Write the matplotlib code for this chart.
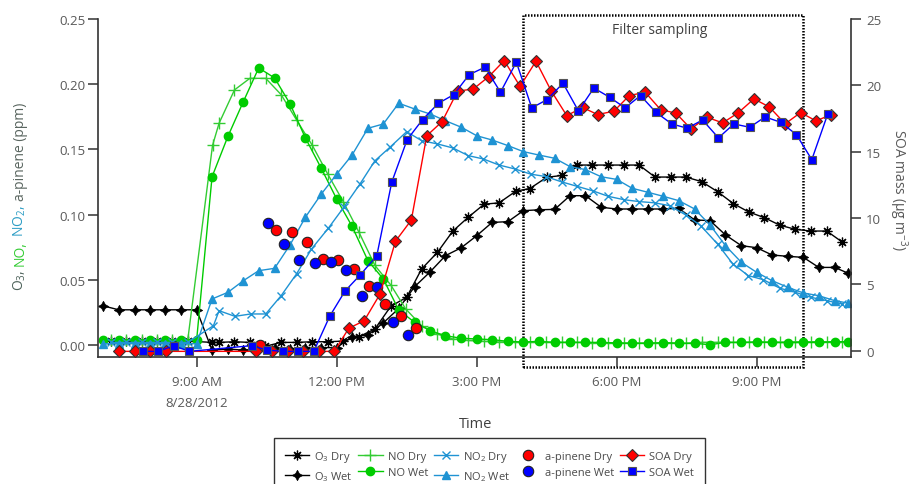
import matplotlib
matplotlib.use('Agg')
import matplotlib.pyplot as plt
import matplotlib.transforms as mtransforms
from matplotlib.patches import Rectangle

plt.rcParams['font.family'] = ['Open Sans', 'DejaVu Sans']
plt.rcParams['mathtext.fontset'] = 'custom'
plt.rcParams['mathtext.rm'] = 'Open Sans'
plt.rcParams['mathtext.it'] = 'Open Sans:italic'
plt.rcParams['mathtext.bf'] = 'Open Sans:bold'

# ---------------- data (time in hours of 8/28/2012) ----------------
o3_dry_t = [7.16, 7.49, 7.82, 8.15, 8.48, 8.81, 9.33, 9.48, 9.81, 10.14, 10.47, 10.81, 11.14, 11.48, 11.81, 12.14,
            12.48, 12.82, 13.16, 13.5, 13.82, 14.16, 14.49, 14.82, 15.16, 15.48, 15.84, 16.14, 16.5, 16.82, 17.14,
            17.48, 17.82, 18.16, 18.48, 18.82, 19.16, 19.48, 19.82, 20.16, 20.5, 20.83, 21.16, 21.5, 21.83, 22.16,
            22.5, 22.83]
o3_dry_v = [0.003, 0.003, 0.003, 0.003, 0.003, 0.003, 0.002, 0.002, 0.0025, 0.002, -0.001, 0.002, 0.002, 0.0025,
            0.0025, 0.003, 0.0064, 0.0123, 0.0297, 0.0366, 0.0583, 0.0711, 0.0874, 0.098, 0.108, 0.109, 0.118, 0.120,
            0.1286, 0.130, 0.138, 0.138, 0.138, 0.138, 0.138, 0.1288, 0.1288, 0.1288, 0.1253, 0.1176, 0.1084, 0.102,
            0.0977, 0.0918, 0.0887, 0.0874, 0.0874, 0.079]

wet_t = [7.0, 7.33, 7.67, 8.0, 8.33, 8.67, 9.0, 9.33, 9.67, 10.0, 10.33, 10.67, 11.0, 11.33, 11.67, 12.0, 12.33,
         12.67, 13.0, 13.33, 13.67, 14.0, 14.33, 14.67, 15.0, 15.33, 15.67, 16.0, 16.33, 16.67, 17.0, 17.33, 17.67,
         18.0, 18.33, 18.67, 19.0, 19.33, 19.67, 20.0, 20.33, 20.67, 21.0, 21.33, 21.67, 22.0, 22.33, 22.67, 22.95]
o3_wet_v = [0.030, 0.027, 0.027, 0.027, 0.027, 0.027, 0.027, -0.004, -0.003, -0.004, -0.003, -0.002, -0.003,
            -0.002, -0.002, -0.002, 0.0064, 0.0077, 0.017, 0.028, 0.0447, 0.056, 0.0685, 0.0746, 0.0838, 0.094,
            0.0946, 0.103, 0.1037, 0.104, 0.1145, 0.1145, 0.1056, 0.1043, 0.1043, 0.1043, 0.1043, 0.1048, 0.0959,
            0.0954, 0.0844, 0.0762, 0.0746, 0.069, 0.068, 0.0672, 0.0595, 0.0595, 0.0552]

no_dry_t = [7.16, 7.49, 7.82, 8.15, 8.48, 8.81, 9.34, 9.48, 9.81, 10.14, 10.48, 10.81, 11.14, 11.48, 11.81, 12.14,
            12.48, 12.82, 13.16, 13.48, 13.82, 14.16, 14.49, 14.82, 15.16, 15.48, 15.82, 16.14, 16.48, 16.82, 17.14,
            17.48, 17.82, 18.16, 18.48, 18.82, 19.16, 19.48, 19.82, 20.16, 20.5, 20.83, 21.16, 21.5, 21.83, 22.16,
            22.5, 22.83]
no_dry_v = [0.004, 0.004, 0.004, 0.004, 0.004, 0.004, 0.153, 0.170, 0.1956, 0.2045, 0.2045, 0.192, 0.1726, 0.153,
            0.131, 0.110, 0.0863, 0.061, 0.046, 0.0276, 0.0148, 0.0084, 0.0046, 0.0035, 0.0028, 0.0023, 0.002, 0.002,
            0.002, 0.002, 0.002, 0.0018, 0.0018, 0.0015, 0.0015, 0.0015, 0.0015, 0.0013, 0.002, 0.002, 0.002, 0.002,
            0.0022, 0.0022, 0.0025, 0.0025, 0.0025, 0.0025]
no_wet_v = [0.004, 0.004, 0.004, 0.004, 0.004, 0.004, 0.004, 0.129, 0.160, 0.1866, 0.2125, 0.2048, 0.185, 0.1588,
            0.1355, 0.112, 0.091, 0.0647, 0.0506, 0.0268, 0.0174, 0.011, 0.0071, 0.0052, 0.0046, 0.0041, 0.0028,
            0.0023, 0.0028, 0.002, 0.002, 0.002, 0.002, 0.0015, 0.0013, 0.0013, 0.0018, 0.0013, 0.0013, 0.0002,
            0.002, 0.002, 0.0023, 0.002, 0.0018, 0.002, 0.002, 0.0025, 0.0025]

no2_dry_t = [7.16, 7.49, 7.82, 8.15, 8.48, 8.81, 9.36, 9.48, 9.82, 10.16, 10.48, 10.81, 11.14, 11.46, 11.82, 12.16,
             12.5, 12.82, 13.14, 13.5, 13.82, 14.16, 14.49, 14.82, 15.14, 15.48, 15.82, 16.16, 16.48, 16.82, 17.16,
             17.49, 17.82, 18.16, 18.48, 18.82, 19.14, 19.48, 19.8, 20.16, 20.49, 20.82, 21.14, 21.5, 21.83, 22.16,
             22.5, 22.83]
no2_dry_v = [0.002, 0.002, 0.002, 0.002, 0.002, 0.002, 0.0148, 0.0263, 0.022, 0.0238, 0.0238, 0.0378, 0.0545,
             0.0736, 0.0895, 0.106, 0.1235, 0.1413, 0.1516, 0.1636, 0.1567, 0.1542, 0.1511, 0.1452, 0.1427, 0.138,
             0.135, 0.131, 0.1292, 0.1251, 0.1216, 0.1182, 0.114, 0.1114, 0.110, 0.109, 0.1068, 0.0997, 0.0915,
             0.0775, 0.0621, 0.0532, 0.0501, 0.0435, 0.0404, 0.0366, 0.034, 0.0315]
no2_wet_v = [0.001, 0.001, 0.001, 0.001, 0.001, 0.001, 0.001, 0.0353, 0.0404, 0.0493, 0.057, 0.0588, 0.0767, 0.098,
             0.1157, 0.131, 0.1457, 0.1662, 0.1695, 0.1854, 0.181, 0.1772, 0.172, 0.167, 0.1605, 0.1572, 0.1529,
             0.1483, 0.1457, 0.1432, 0.1368, 0.1345, 0.129, 0.127, 0.1202, 0.1171, 0.114, 0.1107, 0.1043, 0.092,
             0.0762, 0.0634, 0.0557, 0.0493, 0.0442, 0.0399, 0.0378, 0.034, 0.0322]

apin_dry_t = [10.36, 10.7, 11.04, 11.37, 11.7, 12.03, 12.37, 12.7, 13.03, 13.37, 13.7]
apin_dry_v = [0.0, 0.0882, 0.0869, 0.0788, 0.066, 0.0652, 0.0583, 0.045, 0.0314, 0.022, 0.0128]
apin_wet_t = [10.53, 10.87, 11.2, 11.53, 11.87, 12.2, 12.54, 12.87, 13.2, 13.53]
apin_wet_v = [0.0933, 0.0775, 0.0654, 0.0627, 0.0639, 0.0578, 0.0378, 0.0447, 0.0174, 0.0079]

soa_dry_t = [7.34, 7.68, 8.01, 8.34, 10.27, 10.62, 10.96, 11.28, 11.62, 11.95, 12.26, 12.59, 12.93, 13.26, 13.6,
             13.93, 14.26, 14.59, 14.93, 15.26, 15.59, 15.93, 16.27, 16.6, 16.93, 17.27, 17.59, 17.94, 18.27, 18.61,
             18.94, 19.27, 19.59, 19.93, 20.27, 20.6, 20.94, 21.27, 21.61, 21.94, 22.27, 22.6]
soa_dry_v = [-0.05, -0.05, -0.05, -0.05, -0.05, -0.05, -0.05, -0.05, -0.05, -0.05, 1.69, 2.26, 4.27, 8.25, 9.85,
             16.2, 17.27, 19.56, 19.73, 20.66, 21.87, 19.92, 21.82, 19.56, 17.72, 18.33, 17.8, 18.05, 19.23, 19.48,
             18.17, 17.9, 16.72, 17.6, 17.17, 17.92, 18.98, 18.37, 17.1, 17.95, 17.32, 17.8]
soa_wet_t = [7.84, 8.18, 8.51, 8.84, 10.18, 10.51, 10.84, 11.18, 11.51, 11.85, 12.18, 12.51, 12.86, 13.18, 13.51,
             13.84, 14.18, 14.51, 14.84, 15.18, 15.51, 15.85, 16.18, 16.51, 16.85, 17.18, 17.51, 17.85, 18.18, 18.51,
             18.84, 19.18, 19.51, 19.84, 20.18, 20.51, 20.85, 21.18, 21.51, 21.85, 22.18, 22.52]
soa_wet_v = [-0.05, -0.05, 0.38, -0.05, 0.38, 0.05, -0.05, -0.05, -0.05, 2.59, 4.5, 5.73, 7.16, 12.7, 15.9, 17.42,
             18.65, 19.3, 20.81, 21.37, 19.48, 21.75, 18.3, 18.93, 20.16, 18.07, 19.8, 19.1, 18.3, 19.23, 17.97,
             17.09, 16.77, 17.39, 16.04, 17.09, 16.84, 17.62, 17.22, 16.29, 14.4, 17.82]

x_ticks = [9, 12, 15, 18, 21]
x_ticklabels = ['9:00 AM\n8/28/2012', '12:00 PM', '3:00 PM', '6:00 PM', '9:00 PM']
left_ticks = [0.00, 0.05, 0.10, 0.15, 0.20, 0.25]
right_ticks = [0, 5, 10, 15, 20, 25]
filter_window = (16.0, 22.0)

# ---------------- figure ----------------
W, H = 914, 485
fig = plt.figure(figsize=(W / 100, H / 100), dpi=100)
ax = fig.add_axes([97.7 / W, 1 - 358 / H, (851 - 97.7) / W, (358 - 20) / H])
ax2 = ax.twinx()

GRAY = '#595959'
SP = '#333333'
C_NO_D = '#33cc33'
C_NO_W = '#00cc00'
C_NO2 = '#1f93d3'
lw = 1.0

h = {}
h['O3d'], = ax.plot(o3_dry_t, o3_dry_v, color='black', lw=lw, marker=(8, 2, 0), ms=7, mew=0.9)
h['O3w'], = ax.plot(wet_t, o3_wet_v, color='black', lw=lw, marker=(4, 1, 0), ms=7.5, mew=0.5)
h['NOd'], = ax.plot(no_dry_t, no_dry_v, color=C_NO_D, lw=lw, marker='+', ms=8, mew=1.0)
h['NOw'], = ax.plot(wet_t, no_wet_v, color=C_NO_W, lw=lw, marker='o', ms=6, mec=C_NO_W)
h['NO2d'], = ax.plot(no2_dry_t, no2_dry_v, color=C_NO2, lw=lw, marker='x', ms=6, mew=1.0)
h['NO2w'], = ax.plot(wet_t, no2_wet_v, color=C_NO2, lw=lw, marker='^', ms=6, mec=C_NO2)
h['APd'], = ax.plot(apin_dry_t, apin_dry_v, ls='none', marker='o', ms=7.5, mfc='#ff0000', mec='#222222', mew=0.8)
h['APw'], = ax.plot(apin_wet_t, apin_wet_v, ls='none', marker='o', ms=7.5, mfc='#0000ff', mec='#222222', mew=0.8)
h['SOAd'], = ax2.plot(soa_dry_t, soa_dry_v, color='#ff0000', lw=lw, marker='D', ms=6.5, mfc='#ff0000',
                      mec='#333333', mew=0.8)
h['SOAw'], = ax2.plot(soa_wet_t, soa_wet_v, color='#0000ff', lw=lw, marker='s', ms=6, mfc='#0000ff',
                      mec='#555555', mew=0.8)

ax.set_xlim(6.88, 23.02)
ax.set_ylim(-0.0092, 0.25)
ax2.set_ylim(-0.475, 25)

ax.set_xticks(x_ticks)
ax.set_xticklabels(x_ticklabels, linespacing=1.75)
ax.set_yticks(left_ticks)
ax.set_yticklabels(['%.2f' % v for v in left_ticks])
ax2.set_yticks(right_ticks)
ax2.set_yticklabels([str(v) for v in right_ticks])

for a in (ax, ax2):
    a.spines['top'].set_visible(False)
    for s in a.spines.values():
        s.set_color(SP)
        s.set_linewidth(1.2)
ax.spines['right'].set_visible(False)
ax2.spines['left'].set_visible(False)
ax2.spines['bottom'].set_visible(False)

ax.tick_params(axis='x', direction='out', length=7, width=1.1, color=SP, labelcolor=GRAY, labelsize=9.5, pad=6)
ax.tick_params(axis='y', direction='out', length=7.5, width=1.1, color=SP, labelcolor=GRAY, labelsize=9.5, pad=1.5)
ax2.tick_params(axis='y', direction='out', length=7, width=1.1, color=SP, labelcolor=GRAY, labelsize=9.5, pad=4)

# filter sampling window
blend = mtransforms.blended_transform_factory(ax.transData, ax.transAxes)
rect = Rectangle((filter_window[0], -0.0296), filter_window[1] - filter_window[0], 1.0127 + 0.0296,
                 transform=blend, fill=False, edgecolor='black', lw=1.8, ls=(0, (0.6, 0.6)), clip_on=False,
                 zorder=0.5)
ax.add_patch(rect)
ax.text(18.93, 0.968, 'Filter sampling', transform=blend, ha='center', va='center', fontsize=10, color='#404040')

# labels
ID = mtransforms.IdentityTransform()
fig.text(476, H - 425, 'Time', transform=ID, ha='center', va='center', fontsize=10.5, color='#404040')
fig.text(898, H - 190, 'SOA mass (µg m$^{-3}$)', transform=ID, ha='center', va='center', rotation=270,
         fontsize=10, color=GRAY)

parts = [('O$_{\\mathregular{3}}$,', '#4d625a'), ('NO,', C_NO_D), ('NO$_{\\mathregular{2}}$,', '#2a9cc4'),
         ('a-pinene (ppm)', '#5a6660')]
objs = [fig.text(0, 0, s, transform=ID, color=c, fontsize=10, rotation=90, rotation_mode='anchor',
                 ha='left', va='baseline') for s, c in parts]

# legend
order = ['O3d', 'O3w', 'NOd', 'NOw', 'NO2d', 'NO2w', 'APd', 'APw', 'SOAd', 'SOAw']
labels = ['O$_{\\mathregular{3}}$ Dry', 'O$_{\\mathregular{3}}$ Wet', 'NO Dry', 'NO Wet',
          'NO$_{\\mathregular{2}}$ Dry', 'NO$_{\\mathregular{2}}$ Wet', 'a-pinene Dry', 'a-pinene Wet',
          'SOA Dry', 'SOA Wet']
leg = fig.legend([h[k] for k in order], labels, ncol=5, loc='upper left',
                 bbox_to_anchor=(274 / W, 1 - 439 / H), bbox_transform=fig.transFigure,
                 frameon=True, fancybox=False, edgecolor='black', fontsize=8, numpoints=1,
                 handlelength=2.2, handletextpad=0.45, columnspacing=0.5, borderpad=0.95,
                 labelspacing=0.5, borderaxespad=0)
leg.get_frame().set_linewidth(1.0)
for t in leg.get_texts():
    t.set_color('#4a4a4a')

fig.canvas.draw()
r = fig.canvas.get_renderer()
lens = [o.get_window_extent(r).height for o in objs]
gap = 0.27 * 10 * 100 / 72
total = sum(lens) + gap * (len(lens) - 1)
y = (H - 197) - total / 2
for o, L in zip(objs, lens):
    o.set_position((24, y))
    y += L + gap

fig.savefig('out.png', dpi=100)
